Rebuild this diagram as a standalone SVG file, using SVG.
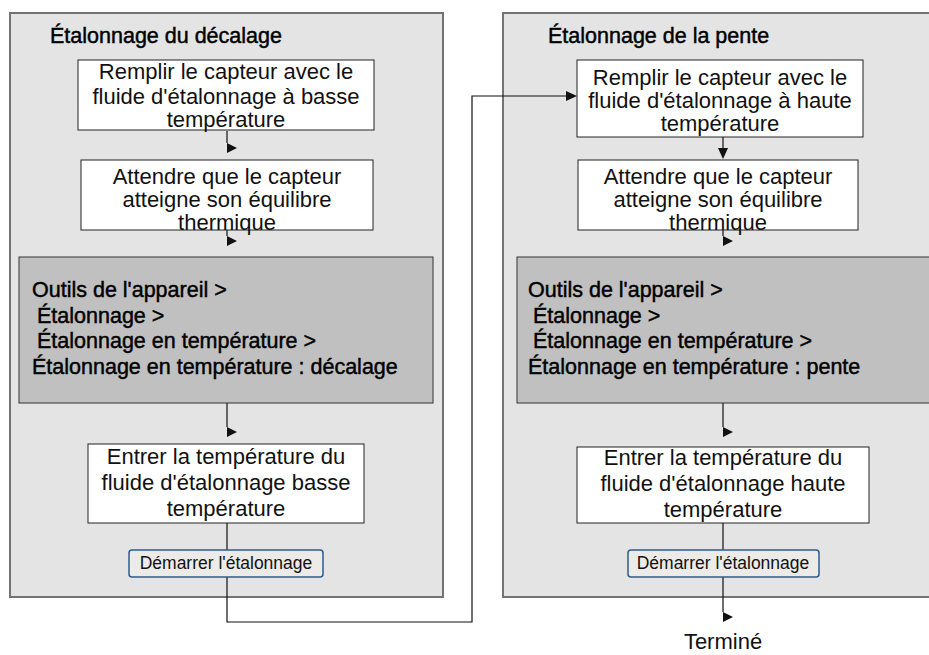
<svg xmlns="http://www.w3.org/2000/svg" width="929" height="655" viewBox="0 0 929 655">
<defs>
<style>
.panel{fill:#e4e4e4;stroke:#737373;stroke-width:2}
.box{fill:#ffffff;stroke:#222;stroke-width:1}
.gbox{fill:#c0c0c0;stroke:#333;stroke-width:1}
.btn{fill:#ecebe7;stroke:#2e5d8c;stroke-width:1.5}
.t{font-family:"Liberation Sans",Arial,sans-serif;font-size:22px;fill:#111;text-anchor:middle}
.title{font-family:"Liberation Sans",Arial,sans-serif;font-size:21.5px;fill:#000;stroke:#000;stroke-width:0.45}
.g{font-family:"Liberation Sans",Arial,sans-serif;font-size:21.5px;fill:#000;stroke:#000;stroke-width:0.45}
.bt{font-family:"Liberation Sans",Arial,sans-serif;font-size:17.5px;fill:#111;text-anchor:middle}
.ln{fill:none;stroke:#111;stroke-width:1.2}
.ah{fill:#111}
</style>
</defs>
<g id="panel-offset">
<rect class="panel" x="10" y="13" width="433" height="584"/>
<text class="title" x="50" y="43">Étalonnage du décalage</text>
</g>
<g id="panel-slope">
<rect class="panel" x="503" y="13" width="440" height="584"/>
<text class="title" x="548" y="43">Étalonnage de la pente</text>
</g>
<g id="connectors">
<path class="ln" d="M227,131 V143"/>
<polygon class="ah" points="227,143 237,148 227,153"/>
<path class="ln" d="M227,230 V236"/>
<polygon class="ah" points="227,236 237,241 227,246"/>
<path class="ln" d="M227,403 V427"/>
<polygon class="ah" points="227,427 237,432 227,437"/>
<path class="ln" d="M227,523 V622 H472 V96 H566"/>
<polygon class="ah" points="566,91 577,96 566,101"/>
<path class="ln" d="M723,137 V149"/>
<polygon class="ah" points="718,148 728,148 723,159"/>
<path class="ln" d="M723,230 V236"/>
<polygon class="ah" points="723,236 733,241 723,246"/>
<path class="ln" d="M723,403 V427"/>
<polygon class="ah" points="723,427 733,432 723,437"/>
<path class="ln" d="M723,523 V612"/>
<polygon class="ah" points="723,612 733,617 723,622"/>
</g>
<g id="fill-low">
<rect class="box" x="78" y="60" width="296" height="70"/>
<text class="t" x="226" y="79">Remplir le capteur avec le</text>
<text class="t" x="226" y="104">fluide d'étalonnage à basse</text>
<text class="t" x="226" y="127">température</text>
</g>
<g id="wait-low">
<rect class="box" x="81" y="160" width="292" height="70"/>
<text class="t" x="227" y="184">Attendre que le capteur</text>
<text class="t" x="227" y="207">atteigne son équilibre</text>
<text class="t" x="227" y="230">thermique</text>
</g>
<g id="menu-offset">
<rect class="gbox" x="19" y="257" width="414" height="146"/>
<text class="g" x="32" y="297">Outils de l'appareil &gt;</text>
<text class="g" x="37" y="323">Étalonnage &gt;</text>
<text class="g" x="37" y="348">Étalonnage en température &gt;</text>
<text class="g" x="32" y="374">Étalonnage en température : décalage</text>
</g>
<g id="enter-low">
<rect class="box" x="88" y="444" width="276" height="79"/>
<text class="t" x="226" y="464">Entrer la température du</text>
<text class="t" x="226" y="490">fluide d'étalonnage basse</text>
<text class="t" x="226" y="516">température</text>
</g>
<g id="start-low">
<rect class="btn" x="129" y="550" width="194" height="27" rx="3"/>
<text class="bt" x="226" y="569">Démarrer l'étalonnage</text>
</g>
<g id="fill-high">
<rect class="box" x="577" y="60" width="286" height="77"/>
<text class="t" x="720" y="85">Remplir le capteur avec le</text>
<text class="t" x="720" y="108">fluide d'étalonnage à haute</text>
<text class="t" x="720" y="131">température</text>
</g>
<g id="wait-high">
<rect class="box" x="578" y="160" width="280" height="70"/>
<text class="t" x="718" y="184">Attendre que le capteur</text>
<text class="t" x="718" y="207">atteigne son équilibre</text>
<text class="t" x="718" y="230">thermique</text>
</g>
<g id="menu-slope">
<rect class="gbox" x="517" y="257" width="420" height="146"/>
<text class="g" x="528" y="297">Outils de l'appareil &gt;</text>
<text class="g" x="533" y="323">Étalonnage &gt;</text>
<text class="g" x="533" y="348">Étalonnage en température &gt;</text>
<text class="g" x="528" y="374">Étalonnage en température : pente</text>
</g>
<g id="enter-high">
<rect class="box" x="577" y="447" width="292" height="76"/>
<text class="t" x="723" y="465">Entrer la température du</text>
<text class="t" x="723" y="491">fluide d'étalonnage haute</text>
<text class="t" x="723" y="517">température</text>
</g>
<g id="start-high">
<rect class="btn" x="628" y="550" width="191" height="27" rx="3"/>
<text class="bt" x="723" y="569">Démarrer l'étalonnage</text>
</g>
<g id="done">
<text class="t" x="723" y="649">Terminé</text>
</g>
</svg>
